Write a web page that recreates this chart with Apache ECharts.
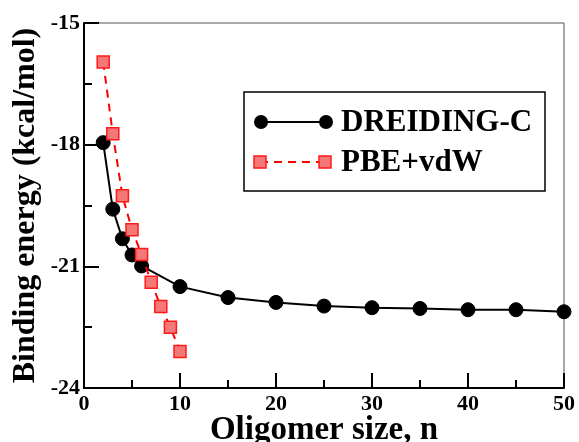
<!DOCTYPE html>
<html>
<head>
<meta charset="utf-8">
<script src="https://cdn.jsdelivr.net/npm/echarts@6/dist/echarts.min.js"></script>
<style>html,body{margin:0;padding:0;background:#fff;}#c{width:579px;height:442px;}</style>
</head>
<body>
<div id="c"></div>
<script>
var seriesNames = ['DREIDING-C', 'PBE+vdW'];
var dreidingN = [2, 3, 4, 5, 6, 10, 15, 20, 25, 30, 35, 40, 45, 50];
var dreidingE = [-17.95, -19.59, -20.32, -20.72, -20.99, -21.5, -21.77, -21.89, -21.98, -22.02, -22.04, -22.07, -22.07, -22.12];
var pbeN = [2, 3, 4, 5, 6, 7, 8, 9, 10];
var pbeE = [-15.96, -17.73, -19.26, -20.1, -20.71, -21.39, -21.99, -22.5, -23.1];
var xTitle = 'Oligomer size, n';
var yTitle = 'Binding energy (kcal/mol)';

function pairs(xs, ys) { return xs.map(function (x, i) { return [x, ys[i]]; }); }

var FONT = '"Liberation Serif", "Times New Roman", serif';
var chart = echarts.init(document.getElementById('c'), null, {renderer: 'canvas'});

var axisCommon = {
  axisLine: {show: true, onZero: false, lineStyle: {color: '#000', width: 2}},
  axisTick: {show: true, inside: true, length: 15, lineStyle: {color: '#000', width: 2}},
  minorTick: {show: true, splitNumber: 2, length: 8, lineStyle: {color: '#000', width: 2}},
  splitLine: {show: false},
  minorSplitLine: {show: false},
  nameMoveOverlap: false,
  axisLabel: {color: '#000', fontFamily: FONT, fontWeight: 'bold', fontSize: 22},
  nameTextStyle: {color: '#000', fontFamily: FONT, fontWeight: 'bold', fontSize: 32}
};

chart.setOption({
  animation: false,
  backgroundColor: '#fff',
  grid: {left: 84, top: 23, width: 480, height: 365, containLabel: false, outerBoundsMode: 'none',
         show: true, borderColor: '#555', borderWidth: 1, backgroundColor: 'transparent'},
  xAxis: Object.assign({}, axisCommon, {
    type: 'value', min: 0, max: 50, interval: 10,
    name: xTitle, nameLocation: 'middle', nameGap: 26,
    axisLabel: Object.assign({}, axisCommon.axisLabel, {margin: 5}),
    nameTextStyle: Object.assign({}, axisCommon.nameTextStyle, {fontSize: 33})
  }),
  yAxis: Object.assign({}, axisCommon, {
    type: 'value', min: -24, max: -15, interval: 3,
    name: yTitle, nameLocation: 'middle', nameGap: 42,
    axisLabel: Object.assign({}, axisCommon.axisLabel, {margin: 4})
  }),
  series: [
    {
      name: seriesNames[0], type: 'line', data: pairs(dreidingN, dreidingE),
      symbol: 'circle', symbolSize: 14, z: 3,
      lineStyle: {color: '#000', width: 2},
      itemStyle: {color: '#000', borderColor: '#000'}
    },
    {
      name: seriesNames[1], type: 'line', data: pairs(pbeN, pbeE),
      symbol: 'rect', symbolSize: 12, z: 4,
      lineStyle: {color: '#ff0000', width: 2, type: [8, 6]},
      itemStyle: {color: '#f47878', borderColor: '#ff1a1a', borderWidth: 1.5}
    }
  ],
  graphic: [
    {type: 'rect', shape: {x: 244, y: 92, width: 301, height: 99}, style: {fill: '#fff', stroke: '#000', lineWidth: 1.5}, z: 10},
    {type: 'line', shape: {x1: 261, y1: 122, x2: 326, y2: 122}, style: {stroke: '#000', lineWidth: 2}, z: 11},
    {type: 'circle', shape: {cx: 261, cy: 122, r: 7}, style: {fill: '#000'}, z: 12},
    {type: 'circle', shape: {cx: 326, cy: 122, r: 7}, style: {fill: '#000'}, z: 12},
    {type: 'line', shape: {x1: 260, y1: 162, x2: 325, y2: 162}, style: {stroke: '#ff0000', lineWidth: 2, lineDash: [8, 6]}, z: 11},
    {type: 'rect', shape: {x: 254, y: 156, width: 12, height: 12}, style: {fill: '#f47878', stroke: '#ff1a1a', lineWidth: 1.5}, z: 12},
    {type: 'rect', shape: {x: 319, y: 156, width: 12, height: 12}, style: {fill: '#f47878', stroke: '#ff1a1a', lineWidth: 1.5}, z: 12},
    {type: 'text', x: 341, y: 123, style: {text: seriesNames[0], fill: '#000', font: 'bold 31px ' + FONT, textVerticalAlign: 'middle', verticalAlign: 'middle'}, z: 12},
    {type: 'text', x: 341, y: 163, style: {text: seriesNames[1], fill: '#000', font: 'bold 31px ' + FONT, textVerticalAlign: 'middle', verticalAlign: 'middle'}, z: 12}
  ]
});
</script>
</body>
</html>
